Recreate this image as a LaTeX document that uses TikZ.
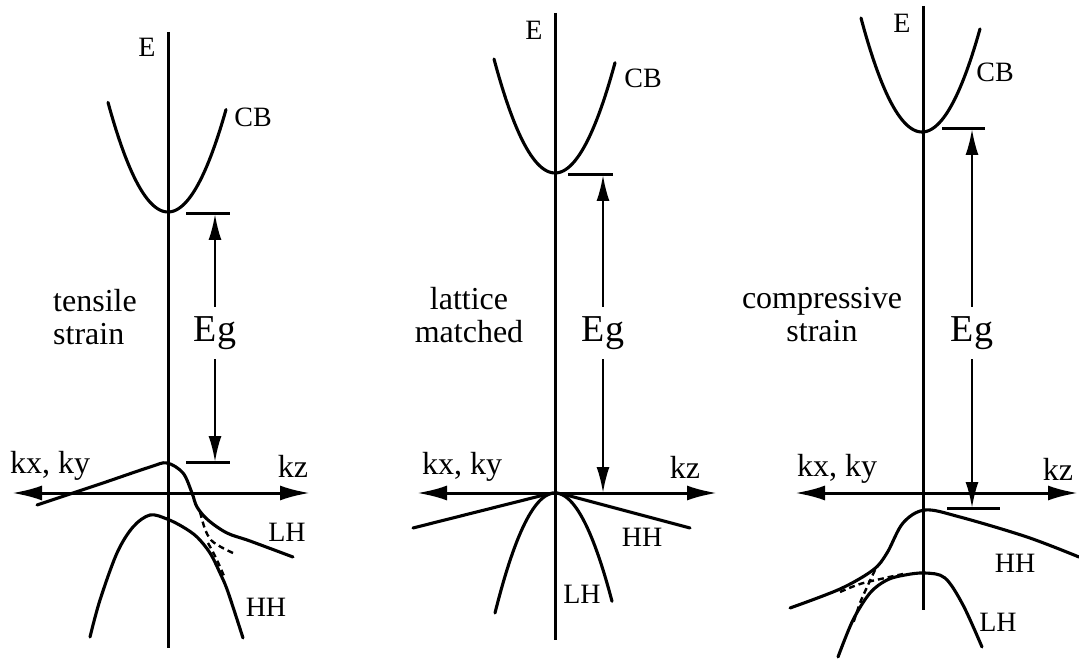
\documentclass[tikz,border=0pt]{standalone}
\usepackage{fontspec}
\setmainfont{Liberation Serif}
\usetikzlibrary{arrows.meta}
\begin{document}
\begin{tikzpicture}[x=1pt,y=-1pt,
  band/.style={line width=3.1pt,line cap=round,line join=round},
  axisline/.style={line width=3pt},
  kaxis/.style={line width=3pt,{Latex[length=30pt,width=15pt]}-{Latex[length=30pt,width=15pt]}},
  gaparrow/.style={line width=2.3pt,-{Latex[length=26pt,width=13pt]}},
  gapbar/.style={line width=3pt},
  dashband/.style={line width=2.4pt,dash pattern=on 6pt off 4pt},
  lab/.style={inner sep=0pt,font=\fontsize{28}{30}\selectfont},
  klab/.style={inner sep=0pt,font=\fontsize{32}{34}\selectfont},
  slab/.style={inner sep=0pt,align=center,font=\fontsize{32}{33}\selectfont},
  eglab/.style={inner sep=0pt,minimum height=52pt,font=\fontsize{38}{40}\selectfont}]
\useasboundingbox (0,0) rectangle (1079,660);

% ================= Panel 1: tensile strain =================
\coordinate (v1t) at (168,32);
\coordinate (v1b) at (168,648);
\draw[axisline] (v1t) -- (v1b);
\coordinate (h1l) at (12,493);
\coordinate (h1r) at (310,493);
\draw[kaxis] (h1l) -- (h1r);
\node[lab] (E1) at (147,47) {E};
\node[lab] (CB1) at (253,117) {CB};
\draw[band] plot[domain=-60:58,samples=60,smooth] ({168+\x},{212-106*(\x/59)^2});
\node[slab,align=left,anchor=west] (s1) at (53,317) {tensile\\strain};
\node[klab] (kx1) at (50,466) {kx, ky};
\node[klab] (kz1) at (293,466) {kz};
% gap
\coordinate (t1) at (215,214);
\coordinate (b1) at (215,462);
\draw[gapbar] (186,214) -- (230,214);
\draw[gapbar] (186,462) -- (230,462);
\node[eglab] (eg1) at (215,333) {Eg};
\draw[gaparrow] (eg1.north) -- (t1);
\draw[gaparrow] (eg1.south) -- (b1);
% valence bands
\draw[band] plot[smooth,tension=0.55] coordinates {(37,505) (100,484) (150,467) (167,463) (183,473) (192,493) (197,507) (208,520) (227,533) (250,541) (293,557)};
\draw[band] plot[smooth,tension=0.55] coordinates {(90,637) (100,600) (117,553) (133,527) (150,515) (167,519) (183,527) (197,537) (210,553) (220,573) (228,592) (243,638)};
\draw[dashband] plot[smooth,tension=0.6] coordinates {(200,512) (205,529) (211,540) (221,547) (233,553)};
\draw[dashband] plot[smooth,tension=0.6] coordinates {(208,543) (216,558) (224,576)};
\node[lab] (LH1) at (287,532) {LH};
\node[lab] (HH1) at (266,607) {HH};

% ================= Panel 2: lattice matched =================
\coordinate (v2t) at (555,13);
\coordinate (v2b) at (555,640);
\draw[axisline] (v2t) -- (v2b);
\coordinate (h2l) at (417,493);
\coordinate (h2r) at (717,493);
\draw[kaxis] (h2l) -- (h2r);
\node[lab] (E2) at (534,30) {E};
\node[lab] (CB2) at (643,78) {CB};
\draw[band] plot[domain=-61:60,samples=60,smooth] ({555+\x},{173-114*(\x/61)^2});
\node[slab] (s2) at (469,315) {lattice\\matched};
\node[klab] (kx2) at (462,467) {kx, ky};
\node[klab] (kz2) at (685,467) {kz};
\coordinate (t2) at (603,175);
\coordinate (b2) at (603,493);
\draw[gapbar] (568,175) -- (613,175);
\node[eglab] (eg2) at (603,333) {Eg};
\draw[gaparrow] (eg2.north) -- (t2);
\draw[gaparrow] (eg2.south) -- (b2);
% valence bands
\coordinate (o2) at (555,493);
\draw[band] (413,528) -- (540,496) .. controls (548,494) and (552,493) .. (o2);
\draw[band] (o2) .. controls (558,493) and (562,494) .. (570,496) -- (690,528);
\draw[band] plot[domain=-60:57,samples=60,smooth] ({555+\x},{493+120*(\x/60)^2});
\node[lab] (LH2) at (582,594) {LH};
\node[lab] (HH2) at (642,537) {HH};

% ================= Panel 3: compressive strain =================
\coordinate (v3t) at (923,6);
\coordinate (v3b) at (923,610);
\draw[axisline] (v3t) -- (v3b);
\coordinate (h3l) at (795,493);
\coordinate (h3r) at (1078,493);
\draw[kaxis] (h3l) -- (h3r);
\node[lab] (E3) at (902,23) {E};
\node[lab] (CB3) at (995,72) {CB};
\draw[band] plot[domain=-61:58,samples=60,smooth] ({922+\x},{132-114*(\x/61)^2});
\node[slab] (s3) at (822,315) {compressive\\strain};
\node[klab] (kx3) at (837,469) {kx, ky};
\node[klab] (kz3) at (1058,469) {kz};
\coordinate (t3) at (972,129);
\coordinate (b3) at (972,508);
\draw[gapbar] (942,129) -- (985,129);
\draw[gapbar] (947,508) -- (1000,508);
\node[eglab] (eg3) at (972,333) {Eg};
\draw[gaparrow] (eg3.north) -- (t3);
\draw[gaparrow] (eg3.south) -- (b3);
% valence bands
\draw[band] plot[smooth,tension=0.55] coordinates {(790,608) (840,589) (873,570) (887,553) (903,523) (925,510) (960,517) (1027,537) (1079,557)};
\draw[band] plot[smooth,tension=0.55] coordinates {(838,657) (853,620) (870,593) (887,580) (905,575) (925,573) (945,578) (963,605) (982,647)};
\draw[dashband] plot[smooth,tension=0.6] coordinates {(840,592) (860,584) (885,578) (903,574)};
\draw[dashband] plot[smooth,tension=0.6] coordinates {(875,570) (868,585) (860,603) (853,624)};
\node[lab] (HH3) at (1015,563) {HH};
\node[lab] (LH3) at (998,622) {LH};
\end{tikzpicture}
\end{document}
